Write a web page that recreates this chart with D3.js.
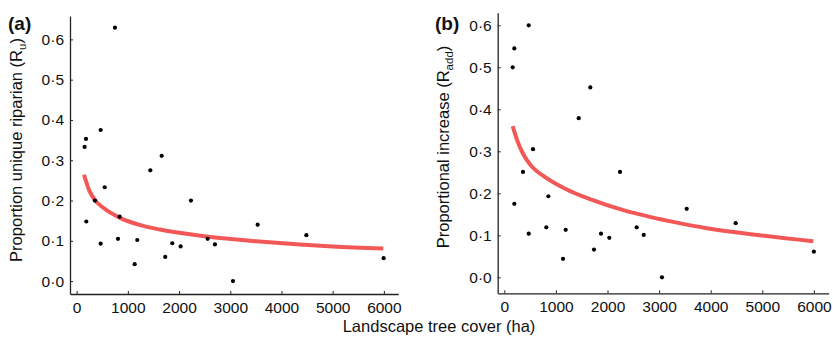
<!DOCTYPE html>
<html>
<head>
<meta charset="utf-8">
<script src="https://cdn.jsdelivr.net/npm/d3@7"></script>
<style>
  body { margin: 0; background: #fff; }
  svg { display: block; font-family: 'Liberation Sans', Arial, sans-serif; }
</style>
</head>
<body>
<div id="chart"></div>
<script>
// panel (a): proportion unique riparian
const coverA = [748, 182, 155, 469, 1660, 1438, 188, 547, 357, 840, 469, 807,
  1184, 1133, 1730, 1867, 2031, 2232, 2559, 2701, 3053, 3535, 4486, 5996];
const uniqueA = [0.629, 0.353, 0.333, 0.375, 0.311, 0.275, 0.148, 0.233, 0.2, 0.16, 0.093, 0.105,
  0.102, 0.042, 0.06, 0.094, 0.086, 0.2, 0.105, 0.091, 0.0, 0.14, 0.114, 0.057];
const fitCoverA = [143, 250, 357, 520, 846, 1301, 1627, 2278, 2799, 3500, 4361, 5000, 5988];
const fitUniqueA = [0.264, 0.224, 0.201, 0.182, 0.157, 0.137, 0.128, 0.115, 0.107, 0.099, 0.091, 0.086, 0.081];

// panel (b): proportional increase
const coverB = [473, 194, 163, 1667, 1442, 556, 362, 194, 853, 473, 814, 1190,
  1138, 1738, 1874, 2035, 2242, 2566, 2702, 3056, 3535, 4484, 6000];
const increaseB = [0.6, 0.545, 0.5, 0.452, 0.379, 0.305, 0.251, 0.175, 0.193, 0.104, 0.119, 0.113,
  0.044, 0.066, 0.104, 0.094, 0.251, 0.119, 0.101, 0.0, 0.163, 0.129, 0.061];
const fitCoverB = [163, 250, 368, 498, 822, 1209, 1661, 2306, 2824, 3275, 3922, 4568, 5988];
const fitIncreaseB = [0.36, 0.326, 0.293, 0.269, 0.236, 0.209, 0.186, 0.16, 0.144, 0.132, 0.117, 0.106, 0.086];

const xTicks = [0, 1000, 2000, 3000, 4000, 5000, 6000];
const yTicks = [0, 0.1, 0.2, 0.3, 0.4, 0.5, 0.6];

const size = { width: 833, height: 339 };
const fitColor = '#f35858';
const axisColor = '#222';
const font = "'Liberation Sans', Arial, sans-serif";

const svg = d3
  .select('#chart')
  .append('svg')
  .attr('width', size.width)
  .attr('height', size.height);

const fmt = (d) => d3.format('.1f')(d).replace('.', '\u00b7');

const makePanel = (p) => {
  const x = d3.scaleLinear().domain(p.xDomain).range(p.xRange);
  const y = d3.scaleLinear().domain(p.yDomain).range(p.yRange);
  const g = svg.append('g');

  // both axes have short ticks pointing into the plot
  const xAxis = g
    .append('g')
    .attr('transform', `translate(0, ${p.yRange[0]})`)
    .call(d3.axisBottom(x).tickValues(xTicks).tickSizeInner(-3).tickSizeOuter(0).tickPadding(8).tickFormat(d3.format('d')));

  const yAxis = g
    .append('g')
    .attr('transform', `translate(${p.xRange[0]}, 0)`)
    .call(d3.axisLeft(y).tickValues(yTicks).tickSizeInner(-3).tickSizeOuter(0).tickPadding(6).tickFormat(fmt));

  [xAxis, yAxis].forEach((a) => {
    a.attr('font-family', font).attr('font-size', 15.5);
    a.selectAll('path').attr('stroke', axisColor).attr('stroke-width', 1.3);
    a.selectAll('line').attr('stroke', axisColor).attr('stroke-width', 1);
    a.selectAll('text').attr('fill', '#111');
  });

  const line = d3
    .line()
    .curve(d3.curveMonotoneX)
    .x((d) => x(d[0]))
    .y((d) => y(d[1]));

  g.append('path')
    .attr('d', line(d3.zip(p.fitX, p.fitY)))
    .attr('fill', 'none')
    .attr('stroke', fitColor)
    .attr('stroke-width', 4);

  g.selectAll('circle')
    .data(d3.zip(p.ptsX, p.ptsY))
    .join('circle')
    .attr('cx', (d) => x(d[0]))
    .attr('cy', (d) => y(d[1]))
    .attr('r', 2.1)
    .attr('fill', '#000');

  g.append('text')
    .text(p.tag)
    .attr('x', p.tagX)
    .attr('y', 29.5)
    .attr('font-weight', 'bold')
    .attr('font-size', '19px')
    .attr('fill', '#111');

  const title = g
    .append('text')
    .attr('transform', `translate(${p.titleX}, ${p.titleY}) rotate(-90)`)
    .attr('text-anchor', 'middle')
    .attr('font-size', '16.5px')
    .attr('fill', '#111');
  title.append('tspan').text(p.title + ' (R');
  title.append('tspan').text(p.sub).attr('font-size', '11.5px').attr('dy', 4);
  title.append('tspan').text(')').attr('dy', -4);
};

makePanel({
  xDomain: [-130, 6280],
  xRange: [70, 398.2],
  yDomain: [-0.032, 0.658],
  yRange: [294, 16],
  ptsX: coverA,
  ptsY: uniqueA,
  fitX: fitCoverA,
  fitY: fitUniqueA,
  tag: '(a)',
  tagX: 8,
  title: 'Proportion unique riparian',
  sub: 'u',
  titleX: 22,
  titleY: 150,
});

makePanel({
  xDomain: [-128, 6287],
  xRange: [497.7, 828.7],
  yDomain: [-0.038, 0.63],
  yRange: [293.3, 12.7],
  ptsX: coverB,
  ptsY: increaseB,
  fitX: fitCoverB,
  fitY: fitIncreaseB,
  tag: '(b)',
  tagX: 435,
  title: 'Proportional increase',
  sub: 'add',
  titleX: 449,
  titleY: 147,
});

svg
  .append('text')
  .text('Landscape tree cover (ha)')
  .attr('x', 439)
  .attr('y', 332)
  .attr('text-anchor', 'middle')
  .attr('font-size', '16.5px')
  .attr('fill', '#111');
</script>
</body>
</html>
